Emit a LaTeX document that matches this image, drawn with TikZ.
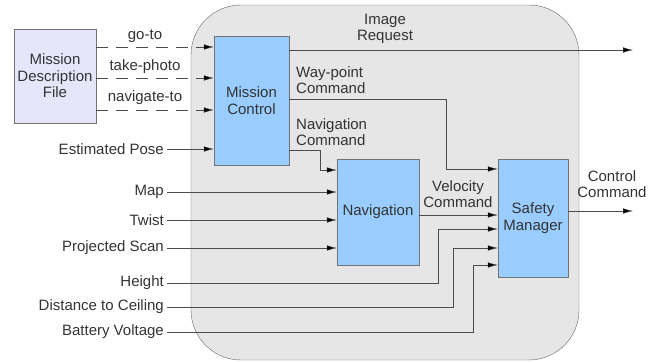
\documentclass[tikz,border=0pt]{standalone}
\usepackage{fontspec}
\setmainfont{Liberation Sans}
\usetikzlibrary{arrows.meta}
\definecolor{boxblue}{HTML}{99CCFF}
\definecolor{filelilac}{HTML}{E6E6FA}
\definecolor{pkggray}{HTML}{E6E6E6}
\definecolor{txtgray}{HTML}{333333}

\begin{document}
\begin{tikzpicture}[x=1pt,y=-1pt,
    font=\fontsize{15}{16.5}\selectfont, text=txtgray,
    block/.style={draw=black!55, fill=boxblue, inner sep=0pt, align=center},
    sig/.style={draw=black!70, -{Latex[length=10pt,width=5.5pt,fill=black]}},
    plan/.style={sig, dash pattern=on 12pt off 8pt},
    inlabel/.style={anchor=east, inner sep=3pt},
    cmd/.style={align=center, inner sep=0pt}]
    \useasboundingbox (0,0) rectangle (667,362);
    \draw[fill=pkggray, draw=black!60, rounded corners=50pt] (191,5) rectangle (579,360);

    \node[block, fill=filelilac, minimum width=82pt, minimum height=94pt] (mdf) at (55,76) {Mission\\Description\\File};
    \node[block, minimum width=75pt, minimum height=129pt] (mc) at (251.5,100.5) {Mission\\Control};
    \node[block, minimum width=82pt, minimum height=106pt] (nav) at (378,212) {Navigation};
    \node[block, minimum width=70pt, minimum height=118pt] (sm) at (533,218) {Safety\\Manager};

    \draw[plan] (mdf.east |- 0,47) -- (mc.west |- 0,47);
    \draw[plan] (mdf.east |- 0,78) -- (mc.west |- 0,78);
    \draw[plan] (mdf.east |- 0,110) -- (mc.west |- 0,110);
    \node[cmd] (goto) at (145,36) {go-to};
    \node[cmd] (photo) at (145,67) {take-photo};
    \node[cmd] (navto) at (145,98) {navigate-to};

    \node[inlabel] (pose) at (167,149) {Estimated Pose};
    \node[inlabel] (map) at (167,192) {Map};
    \node[inlabel] (twist) at (167,220) {Twist};
    \node[inlabel] (scan) at (167,248) {Projected Scan};
    \node[inlabel] (height) at (167,283) {Height};
    \node[inlabel] (ceiling) at (167,307) {Distance to Ceiling};
    \node[inlabel] (battery) at (167,332) {Battery Voltage};

    \draw[sig] (pose) -- (pose -| mc.west);
    \draw[sig] (map) -- (map -| nav.west);
    \draw[sig] (twist) -- (twist -| nav.west);
    \draw[sig] (scan) -- (scan -| nav.west);
    \draw[sig] (height) -| (438,229) -- (sm.west |- 0,229);
    \draw[sig] (ceiling) -| (453,248) -- (sm.west |- 0,248);
    \draw[sig] (battery) -| (473,265) -- (sm.west |- 0,265);

    \coordinate (imgout) at (633,50);
    \coordinate (ctrlout) at (633,211);
    \draw[sig] (mc.east |- imgout) -- (imgout);
    \draw[sig] (mc.east |- 0,99) -| (446,169) -- (sm.west |- 0,169);
    \draw[sig] (mc.east |- 0,150) -| (320,170) -- (nav.west |- 0,170);
    \draw[sig] (nav.east |- 0,215) -- (sm.west |- 0,215);
    \draw[sig] (sm.east |- ctrlout) -- (ctrlout);

    \node[cmd] (imgreq) at (385,29) {Image\\Request};
    \node[cmd, align=left, anchor=south west] (wpcmd) at (296,94) {Way-point\\Command};
    \node[cmd, align=left, anchor=south west] (navcmd) at (296,146) {Navigation\\Command};
    \node[cmd] (velcmd) at (458,194) {Velocity\\Command};
    \node[cmd] (ctrlcmd) at (612,184) {Control\\Command};
\end{tikzpicture}
\end{document}
